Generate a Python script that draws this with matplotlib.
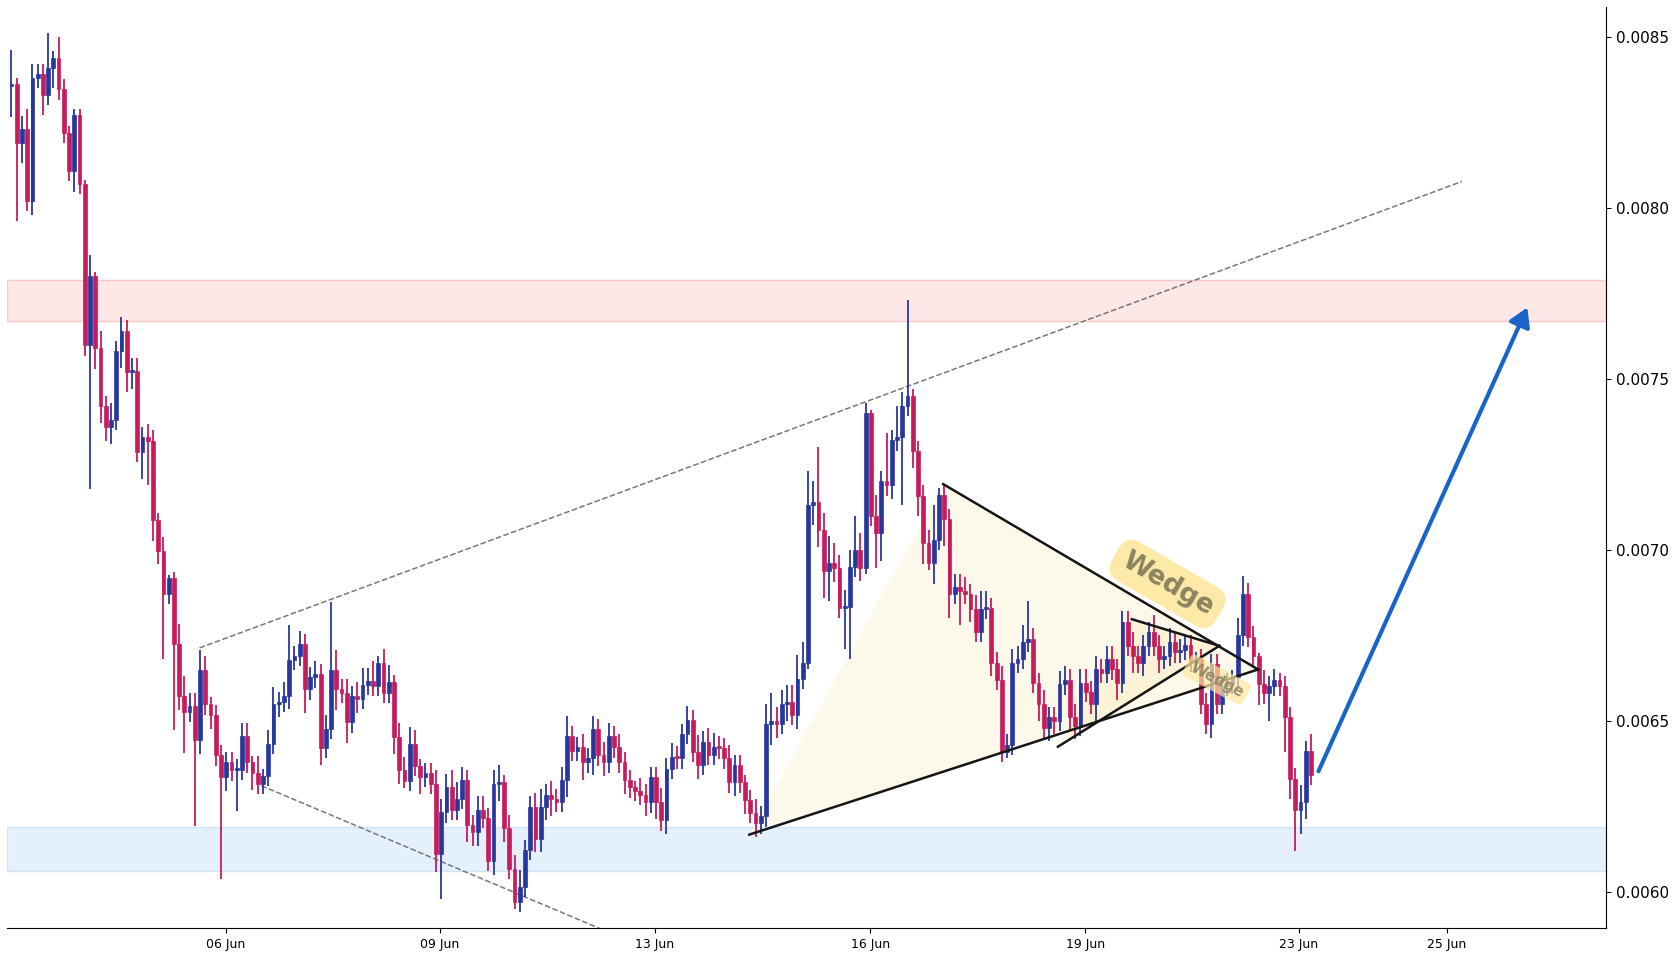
import matplotlib
matplotlib.use("Agg")
import matplotlib.pyplot as plt
from matplotlib.patches import Polygon, FancyArrowPatch
import numpy as np

# closes in units of 1e-4
closes = [
    83.61, 81.90, 82.29, 80.20, 83.81, 83.90, 83.30, 84.10, 84.39, 83.46,
    82.20, 81.07, 82.70, 80.70, 75.98, 78.02, 75.90, 74.20, 73.59, 73.80,
    75.81, 76.41, 75.20, 75.22, 72.87, 73.29, 73.19, 70.87, 69.97, 68.72,
    69.16, 67.23, 65.71, 65.27, 65.42, 64.43, 66.48, 65.48, 65.17, 63.99,
    63.36, 63.78, 63.55, 63.57, 64.54, 63.78, 63.47, 63.15, 63.39, 64.32,
    65.50, 65.55, 65.73, 66.79, 66.89, 67.23, 65.92, 66.27, 66.36, 64.20,
    64.77, 66.48, 65.92, 65.82, 64.95, 65.73, 65.64, 66.05, 66.15, 66.03,
    66.70, 65.82, 66.13, 64.53, 63.55, 63.24, 64.32, 63.67, 63.36, 63.47,
    63.15, 61.09, 62.32, 63.05, 62.40, 62.71, 63.26, 61.95, 61.74, 62.40,
    62.16, 60.90, 63.15, 63.20, 61.85, 60.67, 59.70, 60.14, 61.22, 62.49,
    61.55, 62.49, 62.84, 62.71, 62.63, 63.26, 64.54, 64.11, 64.22, 63.78,
    63.90, 64.75, 63.99, 63.78, 64.54, 64.22, 63.78, 63.26, 63.05, 62.94,
    62.84, 62.61, 63.36, 62.63, 62.09, 63.60, 63.95, 63.90, 64.61, 65.02,
    64.09, 63.70, 64.39, 64.00, 64.24, 64.19, 63.90, 63.20, 63.70, 63.20,
    62.68, 62.30, 62.00, 62.20, 64.90, 65.00, 64.90, 65.50, 65.55, 65.17,
    66.22, 66.70, 71.31, 71.41, 70.58, 69.39, 69.60, 69.46, 68.29, 68.32,
    69.49, 70.00, 69.48, 74.00, 70.99, 70.48, 72.01, 71.88, 73.20, 73.30,
    74.20, 74.50, 72.88, 71.58, 70.19, 69.60, 70.30, 71.60, 70.90, 68.70,
    68.90, 68.80, 68.70, 68.28, 67.60, 68.28, 68.30, 66.70, 66.20, 64.10,
    64.30, 66.70, 66.80, 67.30, 67.40, 66.10, 65.50, 64.80, 65.10, 65.00,
    66.06, 66.20, 65.10, 64.86, 66.10, 65.85, 65.50, 66.50, 66.40, 66.80,
    66.50, 66.10, 67.90, 67.20, 66.90, 66.70, 67.20, 67.60, 67.20, 66.80,
    66.90, 67.30, 67.00, 67.08, 67.21, 66.72, 66.80, 65.50, 64.90, 66.66,
    65.50, 66.01, 66.09, 66.29, 67.50, 68.72, 67.46, 66.89, 66.07, 65.80,
    66.01, 66.20, 66.01, 65.10, 63.31, 62.40, 62.63, 64.11, 63.41,
]
first_open = 83.55

wick_up = [
    1.0, 0.2, 0.4, 0.6, 0.4, 0.3, 0.3, 1.0, 0.2, 0.6,
    0.3, 0.2, 0.2, 0.2, 0.1, 0.6, 0.1, 0.5, 0.3, 0.5,
    0.3, 0.4, 0.3, 0.4, 0.4, 0.3, 0.4, 0.3, 0.2, 0.4,
    0.1, 0.2, 0.6, 0.6, 0.4, 0.4, 0.6, 0.4, 0.2, 0.3,
    0.3, 0.3, 0.3, 0.3, 0.4, 0.4, 0.2, 0.5, 0.2, 0.4,
    0.5, 0.3, 0.4, 1.0, 0.3, 0.4, 0.3, 0.3, 0.4, 0.3,
    0.4, 2.0, 0.6, 0.3, 0.4, 0.3, 0.4, 0.5, 0.4, 0.6,
    0.2, 0.4, 0.5, 0.2, 0.4, 0.4, 0.5, 0.4, 0.2, 0.3,
    0.3, 0.4, 0.4, 0.4, 0.5, 0.5, 0.4, 0.3, 0.3, 0.4,
    0.4, 0.3, 0.4, 0.5, 0.2, 0.4, 0.4, 0.5, 0.3, 0.3,
    0.4, 0.5, 0.3, 0.4, 0.3, 0.4, 0.6, 0.3, 0.3, 0.4,
    0.3, 0.4, 0.3, 0.4, 0.4, 0.3, 0.4, 0.3, 0.3, 0.2,
    0.4, 0.3, 0.3, 0.3, 0.4, 0.3, 0.4, 0.3, 0.3, 0.4,
    0.3, 0.5, 0.3, 0.4, 0.4, 0.3, 0.3, 0.4, 0.3, 0.3,
    0.2, 0.3, 0.4, 0.3, 0.6, 0.8, 0.4, 0.4, 0.5, 0.5,
    0.7, 0.6, 1.0, 0.6, 1.6, 0.5, 0.8, 0.6, 0.4, 0.5,
    0.5, 1.0, 0.5, 0.3, 0.1, 0.6, 0.3, 1.4, 0.3, 0.9,
    0.4, 2.8, 0.2, 0.3, 0.3, 0.4, 1.0, 0.2, 0.3, 0.3,
    0.4, 0.4, 0.4, 0.3, 0.4, 0.5, 0.5, 0.3, 0.3, 0.4,
    0.3, 0.4, 0.4, 0.5, 1.1, 0.3, 0.3, 0.4, 0.3, 0.3,
    0.4, 0.4, 0.3, 0.4, 0.4, 0.4, 0.3, 0.4, 0.3, 0.4,
    0.4, 0.3, 0.3, 0.3, 0.4, 0.3, 0.3, 0.3, 0.5, 0.3,
    0.3, 0.4, 0.3, 0.3, 0.3, 0.3, 0.2, 0.3, 0.3, 0.3,
    0.3, 0.3, 0.3, 0.2, 0.5, 0.5, 0.3, 0.3, 0.1, 0.4,
    0.3, 0.3, 0.2, 0.3, 0.3, 0.3, 0.5, 0.3, 0.5,
]
wick_dn = [
    0.9, 2.3, 0.6, 0.3, 0.4, 0.3, 0.6, 0.3, 0.6, 0.3,
    0.3, 0.3, 0.6, 0.3, 0.3, 4.2, 0.6, 0.5, 0.4, 0.5,
    0.3, 0.5, 0.6, 0.5, 0.3, 0.8, 1.3, 0.6, 0.4, 1.9,
    0.3, 2.5, 0.4, 1.2, 0.3, 2.5, 0.4, 0.3, 0.4, 0.3,
    3.0, 0.4, 0.3, 1.2, 0.3, 0.3, 0.5, 0.3, 0.3, 0.3,
    0.3, 0.4, 0.3, 0.4, 0.3, 0.3, 0.7, 0.3, 0.3, 0.5,
    0.3, 0.3, 0.6, 0.3, 0.6, 0.3, 0.4, 0.3, 0.3, 0.3,
    0.3, 0.3, 0.3, 0.5, 0.4, 0.2, 0.3, 0.3, 0.5, 0.3,
    0.3, 0.5, 1.3, 0.3, 0.3, 0.3, 0.3, 0.5, 0.4, 0.4,
    0.3, 0.3, 0.4, 0.5, 0.4, 0.3, 0.2, 0.3, 0.3, 0.3,
    0.4, 0.4, 0.4, 0.5, 0.3, 0.3, 0.5, 0.3, 0.3, 0.5,
    0.3, 0.5, 0.3, 0.4, 0.3, 0.3, 0.3, 0.4, 0.3, 0.3,
    0.3, 0.4, 0.3, 0.5, 0.3, 0.4, 0.3, 0.3, 0.3, 0.3,
    0.3, 0.4, 0.3, 0.3, 0.3, 0.3, 0.3, 0.3, 0.4, 0.3,
    0.4, 0.3, 0.4, 0.3, 0.3, 0.6, 0.4, 0.3, 0.5, 0.3,
    0.4, 0.3, 0.2, 0.6, 0.5, 0.8, 0.9, 0.4, 0.3, 1.2,
    1.5, 0.3, 0.4, 0.2, 0.3, 1.0, 0.8, 0.3, 0.4, 0.3,
    2.0, 0.3, 0.5, 0.6, 0.6, 0.2, 0.6, 0.3, 0.8, 0.7,
    0.3, 1.0, 0.3, 0.4, 0.3, 0.3, 0.3, 0.4, 0.3, 0.3,
    0.2, 0.3, 0.3, 0.3, 0.3, 0.3, 0.5, 0.3, 0.4, 0.4,
    0.3, 0.3, 0.4, 0.4, 0.3, 0.3, 0.3, 0.5, 0.3, 0.3,
    0.3, 0.5, 0.3, 0.3, 0.5, 0.3, 0.4, 0.3, 0.3, 0.4,
    0.3, 0.3, 0.3, 0.3, 0.3, 0.3, 0.3, 0.3, 0.3, 0.4,
    0.3, 0.3, 0.3, 0.3, 0.3, 0.3, 0.3, 0.3, 0.6, 0.3,
    0.8, 0.3, 0.3, 1.0, 0.6, 1.2, 0.7, 0.5, 0.3,
]

tick_pos = [40.9, 81.8, 122.8, 163.9, 204.9, 245.7, 273.9]
tick_labels = ["06 Jun", "09 Jun", "13 Jun", "16 Jun", "19 Jun", "23 Jun", "25 Jun"]

# zones (price bands)
resistance = (0.00767, 0.00779)
support = (0.00606, 0.00619)

scale = 1e-4
c = np.array(closes) * scale
o = np.concatenate([[first_open * scale], c[:-1]])
hi = np.maximum(o, c) + np.array(wick_up) * scale
lo = np.minimum(o, c) - np.array(wick_dn) * scale
x = np.arange(len(c)) + 1

UP = "#2837a0"
DOWN = "#c81b5c"
colors = np.where(c >= o, UP, DOWN)

fig = plt.figure(figsize=(16.8, 9.6), dpi=100)
ax = fig.add_axes([0.004, 0.033, 0.952, 0.96])

ax.axhspan(*resistance, color="#fde7e7", ec="#f8c8c8", lw=1, zorder=0)
ax.axhspan(*support, color="#e4f1fc", ec="#cfe4f7", lw=1, zorder=0)

ax.vlines(x, lo, hi, colors=colors, lw=1.3, zorder=3)
body = np.abs(c - o)
body = np.maximum(body, 0.000006)
ax.bar(x, body, bottom=np.minimum(o, c), width=0.72, color=colors, ec=colors, lw=0.5, zorder=4)

# channel lines
ax.plot([36.9, 277.8], [0.006713, 0.008077], ls="--", color="#777777", lw=1.1, zorder=2)
ax.plot([48.7, 113.2], [0.00631, 0.005893], ls="--", color="#777777", lw=1.1, zorder=2)

# big wedge
big = [(141.8, 0.006167), (178.8, 0.007192), (238.9, 0.00665)]
ax.add_patch(Polygon(big, closed=True, fc="#fdf6dc", ec="none", alpha=0.6, zorder=1))
ax.plot([big[1][0], big[2][0]], [big[1][1], big[2][1]], color="#151515", lw=1.8, zorder=5)
ax.plot([big[0][0], big[2][0]], [big[0][1], big[2][1]], color="#151515", lw=1.8, zorder=5)

# small wedge
small = [(200.7, 0.006424), (214.8, 0.006797), (231.5, 0.006719)]
ax.add_patch(Polygon(small, closed=True, fc="#fcefc4", ec="none", alpha=0.5, zorder=1))
ax.plot([small[0][0], small[2][0]], [small[0][1], small[2][1]], color="#151515", lw=1.8, zorder=5)
ax.plot([small[1][0], small[2][0]], [small[1][1], small[2][1]], color="#151515", lw=1.8, zorder=5)

ax.text(221.6, 0.00690, "Wedge", rotation=-30, fontsize=19, fontweight="bold",
        color="#8a8460", ha="center", va="center", zorder=6,
        bbox=dict(boxstyle="round,pad=0.35,rounding_size=0.6", fc="#fde8a0", ec="none", alpha=0.9))
ax.text(231.0, 0.00662, "Wedge", rotation=-28, fontsize=11, fontweight="bold",
        color="#8a8460", ha="center", va="center", zorder=6, alpha=0.85,
        bbox=dict(boxstyle="round,pad=0.3", fc="#fde8a0", ec="none", alpha=0.7))

arrow = FancyArrowPatch((250.2, 0.006345), (290.5, 0.007716), arrowstyle="-|>,head_length=5,head_width=3",
                        mutation_scale=2.2, color="#1a64c8", lw=3.0, zorder=6)
ax.add_patch(arrow)

ax.set_xlim(0.1, 305.3)
ax.set_ylim(0.005893, 0.008588)
ax.set_xticks(np.array(tick_pos) + 1)
ax.set_xticklabels(tick_labels, fontsize=9)
ax.yaxis.tick_right()
ax.set_yticks([0.0060, 0.0065, 0.0070, 0.0075, 0.0080, 0.0085])
ax.set_yticklabels(["0.0060", "0.0065", "0.0070", "0.0075", "0.0080", "0.0085"], fontsize=11)
ax.spines["top"].set_visible(False)
ax.spines["left"].set_visible(False)

fig.savefig("out.png", dpi=100)
